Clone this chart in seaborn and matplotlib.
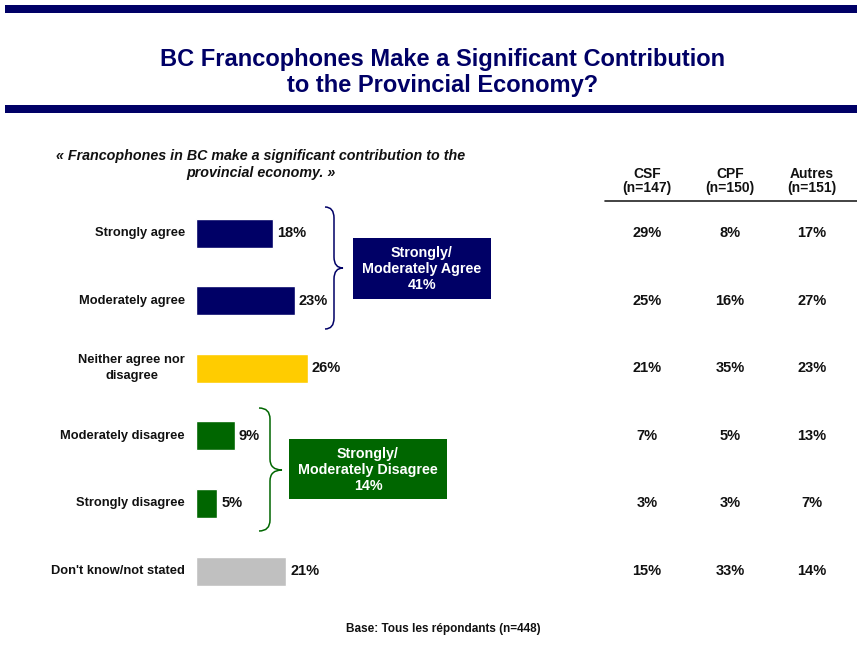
import numpy as np
import pandas as pd
import seaborn as sns
import matplotlib.pyplot as plt
from matplotlib.patches import Rectangle, PathPatch
from matplotlib.path import Path

# data
categories = ['Strongly agree', 'Moderately agree', 'Neither agree nor\ndisagree',
              'Moderately disagree', 'Strongly disagree', "Don't know/not stated"]
totals = [18, 23, 26, 9, 5, 21]
groups = ['CSF\n(n=147)', 'CPF\n(n=150)', 'Autres\n(n=151)']
csf = [29, 25, 21, 7, 3, 15]
cpf = [8, 16, 35, 5, 3, 33]
autres = [17, 27, 23, 13, 7, 14]
agree_total = 41
disagree_total = 14

NAVY = '#000066'
GREEN = '#006600'
bar_colors = [NAVY, NAVY, '#FFCC00', GREEN, GREEN, '#C0C0C0']

sns.set_theme(style='white')
plt.rcParams['font.family'] = ['Liberation Sans', 'DejaVu Sans']

W, H = 857, 646
fig = plt.figure(figsize=(W / 100, H / 100), dpi=100)

# bar axes: value 0 at x=196px, 4.3 px per %, rows at 233px + 67.6px*i
x0, ppp = 196, 4.3
y0, step = 233, 67.6
ax = fig.add_axes([0, 0, 1, 1])
df = pd.DataFrame({'cat': categories, 'pct': totals})
sns.barplot(data=df, x='pct', y='cat', hue='cat', palette=bar_colors,
            orient='h', width=29 / step, legend=False, saturation=1, ax=ax)
ax.set_xlim(-x0 / ppp, (W - x0) / ppp)
ax.set_ylim((H - y0) / step, -y0 / step)
ax.axis('off')

for i, (cat, v) in enumerate(zip(categories, totals)):
    ax.text(-11 / ppp, i, cat, ha='right', va='center', multialignment='center',
            fontsize=9.3, fontweight='bold', color='#111111', linespacing=1.5)
    ax.text(v + 4 / ppp, i, f'{v}%', ha='left', va='center',
            fontsize=10.5, fontweight='bold', color='#111111')

# overlay axes in pixel coordinates
ov = fig.add_axes([0, 0, 1, 1], zorder=-1)
ov.set_xlim(0, W)
ov.set_ylim(H, 0)
ov.axis('off')

ov.add_patch(Rectangle((5, 5), W - 5, 8, color=NAVY, lw=0))
ov.add_patch(Rectangle((5, 105), W - 5, 8, color=NAVY, lw=0))
ov.text(443, 72.5, 'BC Francophones Make a Significant Contribution\nto the Provincial Economy?',
        ha='center', va='center', fontsize=17, fontweight='bold', color=NAVY,
        linespacing=1.2)

ov.text(261, 164.5, '« Francophones in BC make a significant contribution to the\nprovincial economy. »',
        ha='center', va='center', fontsize=10.3, fontweight='bold', style='italic',
        color='#111111', linespacing=1.3)

# table
cols_x = [647, 730, 812]
for cx, g in zip(cols_x, groups):
    ov.text(cx, 181, g, ha='center', va='center', fontsize=10, fontweight='bold',
            color='#111111', linespacing=1.05)
ov.plot([605, W], [201, 201], color='#222222', lw=1.2)
for cx, vals in zip(cols_x, [csf, cpf, autres]):
    for i, v in enumerate(vals):
        ov.text(cx, y0 + step * i, f'{v}%', ha='center', va='center',
                fontsize=10.5, fontweight='bold', color='#111111')


def brace(xl, xm, xt, ytop, ymid, ybot, color):
    c = 11
    verts = [(xl, ytop), (xm, ytop), (xm, ytop + c),
             (xm, ymid - c), (xm, ymid), (xt, ymid),
             (xm, ymid), (xm, ymid + c),
             (xm, ybot - c), (xm, ybot), (xl, ybot)]
    codes = [Path.MOVETO, Path.CURVE3, Path.CURVE3,
             Path.LINETO, Path.CURVE3, Path.CURVE3,
             Path.CURVE3, Path.CURVE3,
             Path.LINETO, Path.CURVE3, Path.CURVE3]
    ov.add_patch(PathPatch(Path(verts, codes), fill=False, edgecolor=color, lw=1.1))


brace(325, 334, 343, 207, 268, 329, NAVY)
brace(259, 270, 282, 408, 470, 531, GREEN)

ov.add_patch(Rectangle((353, 238), 138, 61, color=NAVY, lw=0))
ov.text(422, 269, f'Strongly/\nModerately Agree\n{agree_total}%', ha='center', va='center',
        fontsize=10.3, fontweight='bold', color='white', linespacing=1.2)
ov.add_patch(Rectangle((289, 439), 158, 60, color=GREEN, lw=0))
ov.text(368, 470, f'Strongly/\nModerately Disagree\n{disagree_total}%', ha='center', va='center',
        fontsize=10.3, fontweight='bold', color='white', linespacing=1.2)

ov.text(443, 629, 'Base: Tous les répondants (n=448)', ha='center', va='center',
        fontsize=8.5, fontweight='bold', color='#111111')

fig.savefig('out.png', dpi=100)
